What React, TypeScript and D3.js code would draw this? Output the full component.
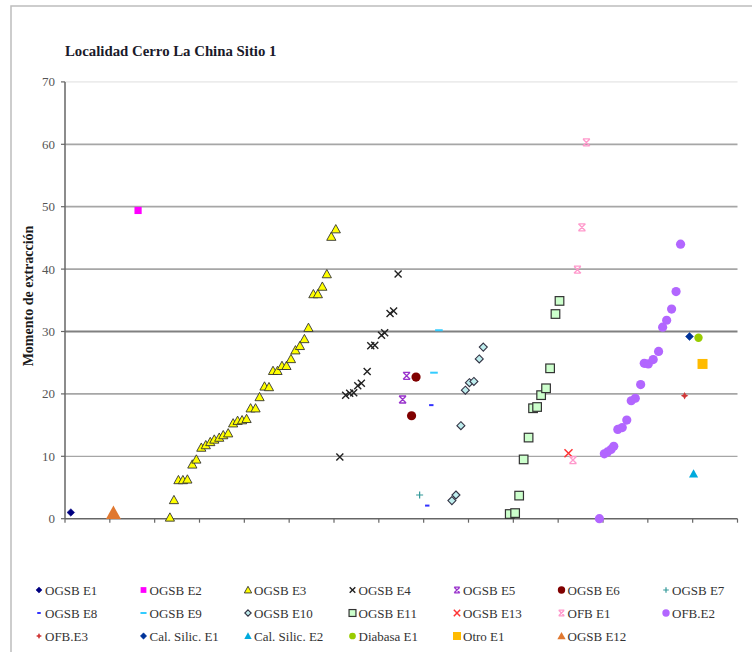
import React from "react";
import * as d3 from "d3";

// Sample index (x) and extraction moment (y) for each lithic group
const ogsbE1: [number, number][] = [[1.3, 1.0]];
const ogsbE2: [number, number][] = [[16.3, 49.4]];
const ogsbE3: [number, number][] = [
  [23.4, 0.2], [24.3, 3.0], [25.3, 6.2], [26.3, 6.2], [27.3, 6.3], [28.4, 8.7], [29.3, 9.5],
  [30.4, 11.4], [31.4, 11.8], [32.4, 12.3], [33.3, 12.7], [34.4, 13.0], [35.3, 13.4], [36.4, 13.7],
  [37.5, 15.3], [38.5, 15.7], [39.5, 15.8], [40.5, 16.0], [41.4, 17.7], [42.5, 17.7], [43.4, 19.5],
  [44.5, 21.2], [45.5, 21.1], [46.4, 23.7], [47.4, 23.7], [48.4, 24.5], [49.4, 24.5], [50.4, 25.6],
  [51.4, 27.0], [52.4, 27.7], [53.4, 28.8], [54.3, 30.6], [55.4, 36.0], [56.4, 36.0], [57.4, 37.2],
  [58.4, 39.2], [59.4, 45.2], [60.4, 46.4],
];
const ogsbE4: [number, number][] = [
  [61.3, 9.9], [62.6, 19.8], [63.5, 20.1], [64.4, 20.2], [65.3, 21.3], [66.1, 21.7], [67.4, 23.6],
  [68.2, 27.7], [69.1, 27.8], [70.6, 29.4], [71.3, 29.8], [72.5, 32.9], [73.3, 33.3], [74.3, 39.2],
];
const ogsbE5: [number, number][] = [[75.3, 19.1], [76.2, 22.9]];
const ogsbE6: [number, number][] = [[77.3, 16.5], [78.3, 22.7]];
const ogsbE7: [number, number][] = [[79.1, 3.8]];
const ogsbE8: [number, number][] = [[80.8, 2.1], [81.7, 18.2]];
const ogsbE9: [number, number][] = [[82.3, 23.4], [83.4, 30.2]];
const ogsbE10: [number, number][] = [
  [86.3, 2.9], [87.2, 3.8], [88.3, 14.9], [89.3, 20.6], [90.2, 21.8], [91.2, 22.0], [92.4, 25.6], [93.3, 27.5],
];
const ogsbE11: [number, number][] = [
  [99.2, 0.75], [100.4, 0.9], [101.3, 3.7], [102.3, 9.5], [103.4, 13.0], [104.4, 17.7],
  [105.3, 17.9], [106.2, 19.8], [107.3, 20.9], [108.2, 24.1], [109.4, 32.8], [110.3, 34.9],
];
const ogsbE13: [number, number][] = [[112.3, 10.5]];
const ofbE1: [number, number][] = [[113.3, 9.4], [114.3, 39.9], [115.3, 46.7], [116.3, 60.3]];
const ofbE2: [number, number][] = [
  [119.2, 0.0], [120.3, 10.4], [121.0, 10.7], [121.8, 11.1], [122.4, 11.6], [123.3, 14.3],
  [124.3, 14.6], [125.3, 15.8], [126.3, 18.9], [127.2, 19.3], [128.4, 21.5], [129.2, 24.9],
  [130.1, 24.8], [131.2, 25.5], [132.4, 26.8], [133.3, 30.7], [134.2, 31.8], [135.3, 33.6],
  [136.3, 36.4], [137.3, 44.0],
];
const ofbE3: [number, number][] = [[138.2, 19.7]];
const calSilicE1: [number, number][] = [[139.3, 29.2]];
const calSilicE2: [number, number][] = [[140.2, 7.2]];
const diabasaE1: [number, number][] = [[141.3, 29.0]];
const otroE1: [number, number][] = [[142.2, 24.8]];
const ogsbE12: [number, number][] = [[10.8, 0.9]];

const yTicks = [0, 10, 20, 30, 40, 50, 60, 70];
const xTicks = d3.range(0, 151, 10);

const TITLE = "Localidad Cerro La China Sitio 1";
const Y_TITLE = "Momento de extracción";

type Kind = "diamond" | "square" | "triangle" | "circle" | "x" | "star" | "plus" | "dash" | "spark";
interface Style { kind: Kind; s: number; fill?: string; stroke?: string; sw?: number }

const series: { name: string; data: [number, number][]; style: Style }[] = [
  { name: "OGSB E1", data: ogsbE1, style: { kind: "diamond", s: 3.8, fill: "#000080", stroke: "#000080", sw: 0.5 } },
  { name: "OGSB E2", data: ogsbE2, style: { kind: "square", s: 3.6, fill: "#ff00ff" } },
  { name: "OGSB E3", data: ogsbE3, style: { kind: "triangle", s: 4.6, fill: "#ffff00", stroke: "#333", sw: 0.9 } },
  { name: "OGSB E4", data: ogsbE4, style: { kind: "x", s: 3.5, stroke: "#222", sw: 1.4 } },
  { name: "OGSB E5", data: ogsbE5, style: { kind: "star", s: 3.5, stroke: "#9933cc", sw: 1.3 } },
  { name: "OGSB E6", data: ogsbE6, style: { kind: "circle", s: 4.6, fill: "#800000" } },
  { name: "OGSB E7", data: ogsbE7, style: { kind: "plus", s: 3.5, stroke: "#339999", sw: 1.2 } },
  { name: "OGSB E8", data: ogsbE8, style: { kind: "dash", s: 2.2, stroke: "#3333ff", sw: 2 } },
  { name: "OGSB E9", data: ogsbE9, style: { kind: "dash", s: 3.8, stroke: "#33ccff", sw: 2 } },
  { name: "OGSB E10", data: ogsbE10, style: { kind: "diamond", s: 4, fill: "#bfeeee", stroke: "#334", sw: 1.1 } },
  { name: "OGSB E11", data: ogsbE11, style: { kind: "square", s: 4.3, fill: "#ccffcc", stroke: "#333", sw: 1.2 } },
  { name: "OGSB E13", data: ogsbE13, style: { kind: "x", s: 4, stroke: "#ff3333", sw: 1.5 } },
  { name: "OFB E1", data: ofbE1, style: { kind: "star", s: 3.5, stroke: "#ff99cc", sw: 1.3 } },
  { name: "OFB.E2", data: ofbE2, style: { kind: "circle", s: 4.6, fill: "#b266ff" } },
  { name: "OFB.E3", data: ofbE3, style: { kind: "spark", s: 3.8, fill: "#d03838" } },
  { name: "Cal. Silic. E1", data: calSilicE1, style: { kind: "diamond", s: 4, fill: "#003399", stroke: "#003399", sw: 0.5 } },
  { name: "Cal. Silic. E2", data: calSilicE2, style: { kind: "triangle", s: 4.6, fill: "#00aadd" } },
  { name: "Diabasa E1", data: diabasaE1, style: { kind: "circle", s: 4.2, fill: "#99cc00" } },
  { name: "Otro E1", data: otroE1, style: { kind: "square", s: 5, fill: "#ffbb00" } },
  { name: "OGSB E12", data: ogsbE12, style: { kind: "triangle", s: 7.5, fill: "#e07830" } },
];

function Marker({ x, y, st, scale = 1 }: { x: number; y: number; st: Style; scale?: number }) {
  const s = st.s * scale;
  const fill = st.fill ?? "none";
  const stroke = st.stroke ?? "none";
  const sw = st.sw ?? 1;
  switch (st.kind) {
    case "diamond":
      return <polygon points={`${x},${y - s} ${x + s},${y} ${x},${y + s} ${x - s},${y}`} fill={fill} stroke={stroke} strokeWidth={sw} />;
    case "square":
      return <rect x={x - s} y={y - s} width={2 * s} height={2 * s} fill={fill} stroke={stroke} strokeWidth={sw} />;
    case "triangle":
      return <polygon points={`${x},${y - s} ${x + s},${y + s * 0.8} ${x - s},${y + s * 0.8}`} fill={fill} stroke={stroke} strokeWidth={sw} />;
    case "circle":
      return <circle cx={x} cy={y} r={s} fill={fill} stroke={stroke} strokeWidth={sw} />;
    case "x":
      return <path d={`M${x - s},${y - s}L${x + s},${y + s}M${x - s},${y + s}L${x + s},${y - s}`} stroke={stroke} strokeWidth={sw} fill="none" />;
    case "star":
      return (
        <path
          d={`M${x - s},${y - s}L${x + s},${y + s}M${x - s},${y + s}L${x + s},${y - s}M${x - s},${y - s}L${x + s},${y - s}M${x - s},${y + s}L${x + s},${y + s}`}
          stroke={stroke} strokeWidth={sw} fill="none"
        />
      );
    case "plus":
      return <path d={`M${x - s},${y}L${x + s},${y}M${x},${y - s}L${x},${y + s}`} stroke={stroke} strokeWidth={sw} fill="none" />;
    case "dash":
      return <path d={`M${x - s},${y}L${x + s},${y}`} stroke={stroke} strokeWidth={sw} fill="none" />;
    case "spark": {
      const k = s * 0.35;
      return (
        <polygon
          points={`${x},${y - s} ${x + k},${y - k} ${x + s},${y} ${x + k},${y + k} ${x},${y + s} ${x - k},${y + k} ${x - s},${y} ${x - k},${y - k}`}
          fill={fill}
        />
      );
    }
  }
  return null;
}

export default function App() {
  const W = 752;
  const H = 652;
  const left = 65;
  const right = 737.5;
  const top = 81.9;
  const bottom = 518.7;

  const x = d3.scaleLinear().domain([0, 150]).range([left, right]);
  const y = d3.scaleLinear().domain([0, 70]).range([bottom, top]);

  const serif = "Liberation Serif, Times New Roman, serif";
  const txt = { fontFamily: serif };

  const legendCols = 7;
  const legendX0 = 39;
  const legendDX = 104.5;
  const legendY0 = 590;
  const legendDY = 23;

  return (
    <svg
      width={W}
      height={H}
      viewBox={`0 0 ${W} ${H}`}
      style={{ position: "fixed", left: 0, top: 0, background: "#fff", fontFamily: serif }}
    >
      <rect x={0} y={0} width={W} height={H} fill="#fff" />
      {/* chart frame */}
      <rect x={11} y={6} width={W + 20} height={H + 20} fill="none" stroke="#bdbdbd" strokeWidth={1.5} />

      <text x={65} y={56} fontSize={14.8} fontWeight="bold" fill="#1a1a2a" style={txt}>{TITLE}</text>

      {/* horizontal gridlines */}
      {yTicks.map((t) => (
        <line
          key={`g${t}`}
          x1={left}
          x2={right}
          y1={y(t)}
          y2={y(t)}
          stroke={t === 70 ? "#ececec" : t === 30 ? "#808080" : t === 0 ? "none" : "#a6a6a6"}
          strokeWidth={t === 10 ? 1.3 : 1.8}
        />
      ))}

      {/* y axis */}
      <line x1={left} x2={left} y1={top} y2={bottom} stroke="#666" strokeWidth={1.5} />
      {yTicks.map((t) => (
        <g key={`yt${t}`}>
          <line x1={left - 4} x2={left} y1={y(t)} y2={y(t)} stroke="#666" strokeWidth={1.2} />
          <text x={55} y={y(t)} dy="0.35em" textAnchor="end" fontSize={13} fill="#555" style={txt}>{t}</text>
        </g>
      ))}

      {/* x axis */}
      <line x1={left} x2={right} y1={bottom} y2={bottom} stroke="#666" strokeWidth={1.5} />
      {xTicks.map((t) => (
        <line key={`xt${t}`} x1={x(t)} x2={x(t)} y1={bottom} y2={bottom + 4} stroke="#666" strokeWidth={1.2} />
      ))}

      <text
        transform={`translate(33, 296) rotate(-90)`}
        textAnchor="middle"
        fontSize={14}
        fontWeight="bold"
        fill="#1a1a1a"
        style={txt}
      >
        {Y_TITLE}
      </text>

      {/* points */}
      {series.map((sr) => (
        <g key={sr.name}>
          {sr.data.map(([dx, dy], i) => (
            <Marker key={i} x={x(dx)} y={y(dy)} st={sr.style} />
          ))}
        </g>
      ))}

      {/* legend */}
      {series.map((sr, i) => {
        const cx = legendX0 + (i % legendCols) * legendDX;
        const cy = legendY0 + Math.floor(i / legendCols) * legendDY;
        return (
          <g key={`lg${sr.name}`}>
            <Marker x={cx} y={cy} st={sr.style} scale={sr.name === "OGSB E12" ? 0.55 : 0.8} />
            <text x={cx + 6} y={cy} dy="0.35em" fontSize={13} fill="#333" style={txt}>{sr.name}</text>
          </g>
        );
      })}
    </svg>
  );
}
